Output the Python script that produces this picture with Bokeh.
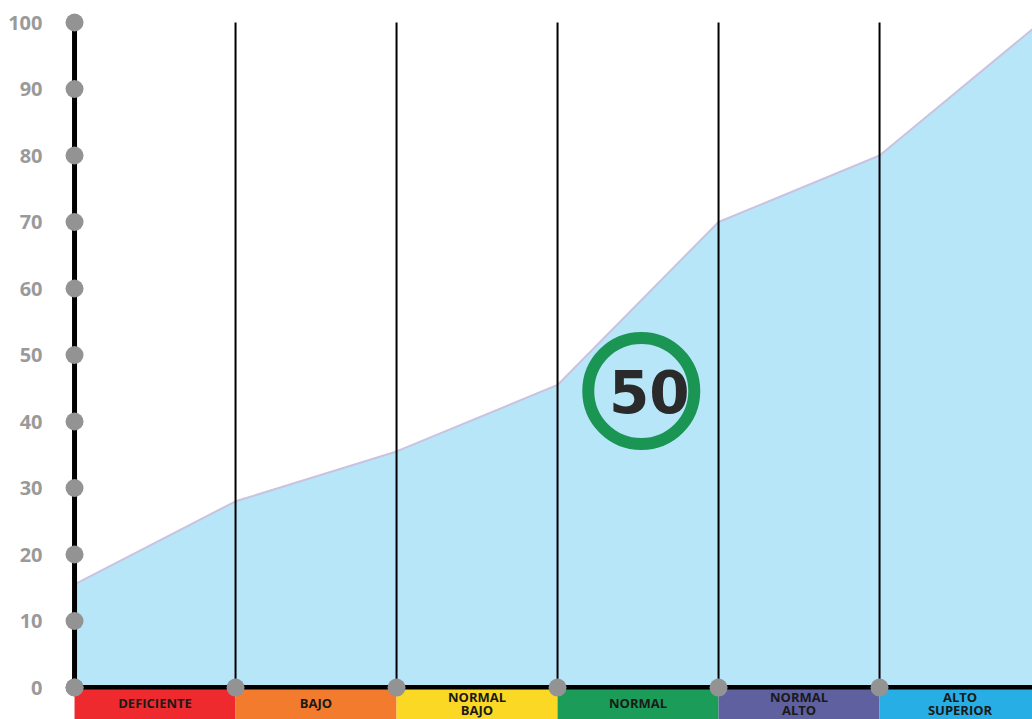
from bokeh.plotting import figure
from bokeh.models import Range1d, FixedTicker, ColumnDataSource
from bokeh.core.properties import value
from bokeh.embed import file_html
from bokeh.resources import INLINE

# ---- data ----
categories = ["DEFICIENTE", "BAJO", "NORMAL\nBAJO", "NORMAL", "NORMAL\nALTO", "ALTO\nSUPERIOR"]
band_colors = ["#ee2a2f", "#f37b2e", "#fbd823", "#1b9c58", "#5e60a0", "#27aee5"]
boundaries = [0, 1, 2, 3, 4, 5, 6]
curve = [15.5, 28, 35.5, 45.5, 70, 80, 100]
y_ticks = [0, 10, 20, 30, 40, 50, 60, 70, 80, 90, 100]
score = "50"

# ---- layout constants ----
badge_x, badge_y = 3.52, 44.6

p = figure(width=1032, height=719, output_backend="svg", toolbar_location=None,
           x_range=Range1d(-0.112, 5.95), y_range=Range1d(-4.81, 103.31),
           min_border_left=56, min_border_right=0, min_border_top=0, min_border_bottom=0)
p.outline_line_color = None
p.xgrid.visible = False
p.ygrid.visible = False
p.xaxis.visible = False
p.background_fill_color = "white"

ya = p.yaxis[0]
ya.ticker = FixedTicker(ticks=y_ticks)
ya.axis_line_color = None
ya.major_tick_line_color = None
ya.minor_tick_line_color = None
ya.major_label_text_color = "#9a9a9a"
ya.major_label_text_font = "Open Sans"
ya.major_label_text_font_style = "bold"
ya.major_label_text_font_size = "20px"
ya.major_label_standoff = 8

# area
p.varea(x=boundaries, y1=[0] * len(boundaries), y2=curve, fill_color="#b8e6f9")
p.line(x=boundaries, y=curve, line_color="#c9c3e0", line_width=2)

# vertical dividers
inner = boundaries[1:-1]
p.segment(x0=inner, y0=[0] * len(inner), x1=inner, y1=[100] * len(inner),
          line_color="black", line_width=2)
p.segment(x0=[0], y0=[0], x1=[0], y1=[100], line_color="black", line_width=5)
# baseline
p.segment(x0=[0], y0=[0], x1=[boundaries[-1]], y1=[0], line_color="black", line_width=5)

# bands
mids = [(a + b) / 2 for a, b in zip(boundaries[:-1], boundaries[1:])]
src = ColumnDataSource(dict(left=boundaries[:-1], right=boundaries[1:],
                            color=band_colors))
p.quad(left="left", right="right", top=-0.3, bottom=-4.81, fill_color="color",
       line_color=None, source=src)

lx, ly, lt = [], [], []
for m, lab in zip(mids, categories):
    parts = lab.split("\n")
    if len(parts) == 1:
        lx.append(m); ly.append(-2.4); lt.append(parts[0])
    else:
        lx += [m, m]; ly += [-1.5, -3.35]; lt += parts
p.text(x=lx, y=ly, text=lt, text_align="center",
       text_baseline="middle", text_font=value("Open Sans"), text_font_style="bold",
       text_font_size="13px", text_color="#1a1a1a")

# dots
p.scatter(x=[0] * len(y_ticks), y=y_ticks, size=18, fill_color="#939393", line_color=None)
p.scatter(x=boundaries[:-1], y=[0] * (len(boundaries) - 1), size=18,
          fill_color="#939393", line_color=None)

# badge
p.scatter(x=[badge_x], y=[badge_y], size=106, fill_color="#b8e6f9",
          line_color="#1b9553", line_width=12)
p.text(x=[badge_x + 0.05], y=[badge_y - 0.1], text=[score], text_align="center",
       text_baseline="middle", text_font=value("DejaVu Sans"), text_font_style="bold",
       text_font_size="58px", text_color="#2a2a2a")

open("out.html", "w").write(file_html(p, INLINE))
